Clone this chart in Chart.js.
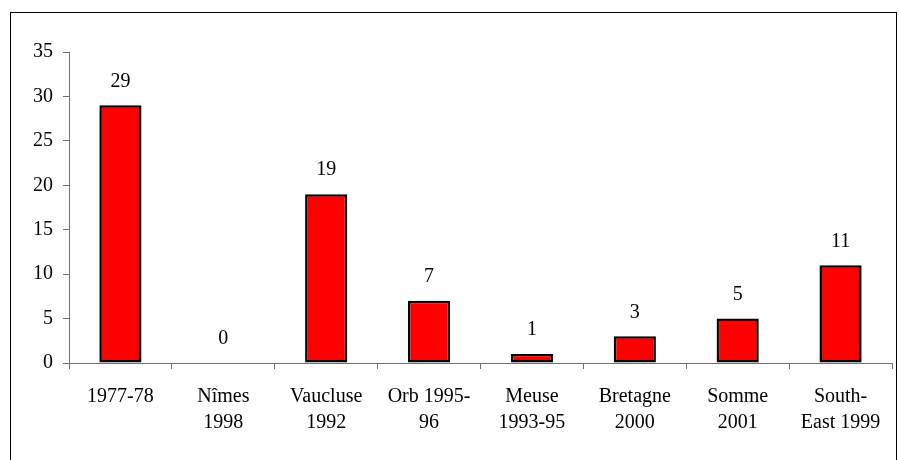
<!DOCTYPE html>
<html>
<head>
<meta charset="utf-8">
<script src="https://cdn.jsdelivr.net/npm/chart.js@4"></script>
<style>
  body { margin: 0; background: #fff; }
  #wrap { width: 899px; height: 460px; }
</style>
</head>
<body>
<div id="wrap"><canvas id="myChart"></canvas></div>
<script>
var sites = [['1977-78'], ['Nîmes', '1998'], ['Vaucluse', '1992'], ['Orb 1995-', '96'],
  ['Meuse', '1993-95'], ['Bretagne', '2000'], ['Somme', '2001'], ['South-', 'East 1999']];
var counts = [29, 0, 19, 7, 1, 3, 5, 11];
var yTicks = [0, 5, 10, 15, 20, 25, 30, 35];

var serif = "'Liberation Serif', 'DejaVu Serif', serif";
Chart.defaults.font.family = serif;
Chart.defaults.font.size = 20;
Chart.defaults.color = '#000';

// frame round the whole picture
var frame = {
  id: 'frame',
  beforeDraw: function (chart) {
    var c = chart.ctx;
    c.save();
    c.strokeStyle = '#000';
    c.lineWidth = 1;
    c.strokeRect(10.5, 12.5, 886, 480);
    c.restore();
  }
};

// value above each bar
var valueLabels = {
  id: 'valueLabels',
  afterDatasetsDraw: function (chart) {
    var c = chart.ctx;
    var meta = chart.getDatasetMeta(0);
    c.save();
    c.font = '20px ' + serif;
    c.fillStyle = '#000';
    c.textAlign = 'center';
    c.textBaseline = 'middle';
    meta.data.forEach(function (bar, i) {
      c.fillText(counts[i], bar.x, bar.y - 24);
    });
    c.restore();
  }
};

var myChart = new Chart(document.getElementById('myChart'), {
  type: 'bar',
  data: {
    labels: sites,
    datasets: [{
      data: counts,
      backgroundColor: '#FF0000',
      borderColor: '#000',
      borderWidth: 2.5,
      borderSkipped: false,
      categoryPercentage: 1,
      barPercentage: 0.41
    }]
  },
  options: {
    responsive: true,
    maintainAspectRatio: false,
    animation: false,
    layout: { padding: { top: 52, right: 7, left: 0, bottom: 0 } },
    plugins: {
      legend: { display: false },
      tooltip: { enabled: false }
    },
    scales: {
      x: {
        offset: true,
        grid: { display: true, drawOnChartArea: false, drawTicks: true, tickLength: 6, color: '#707070', offset: true },
        border: { color: '#707070' },
        ticks: { padding: 15, maxRotation: 0, autoSkip: false, font: { size: 20, lineHeight: 1.3 } },
        afterFit: function (s) { s.height = 97; }
      },
      y: {
        min: 0,
        max: 35,
        afterBuildTicks: function (s) { s.ticks = yTicks.map(function (v) { return { value: v }; }); },
        grid: { display: true, drawOnChartArea: false, drawTicks: true, tickLength: 6, color: '#707070' },
        border: { color: '#707070' },
        ticks: { padding: 10 },
        afterFit: function (s) { s.width = 69; }
      }
    }
  },
  plugins: [frame, valueLabels]
});
</script>
</body>
</html>
